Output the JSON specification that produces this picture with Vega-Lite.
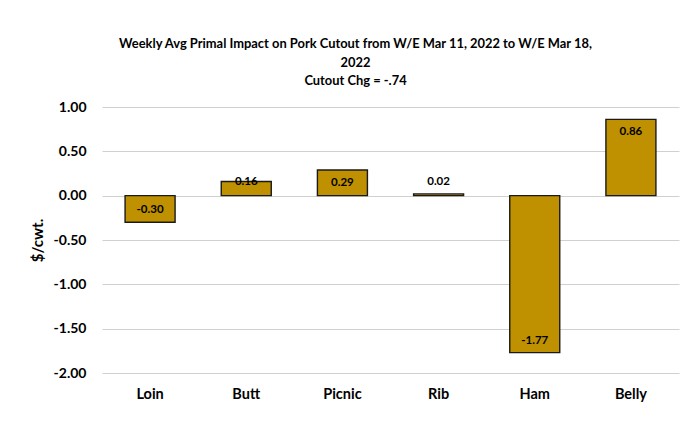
{
  "$schema": "https://vega.github.io/schema/vega-lite/v6.json",
  "width": 577,
  "height": 266,
  "autosize": "none",
  "padding": {"left": 102, "top": 107, "right": 17, "bottom": 57},
  "background": "white",
  "title": {
    "text": ["Weekly Avg Primal Impact on Pork Cutout from W/E Mar 11, 2022 to W/E Mar 18,", "2022", "Cutout Chg = -.74"],
    "font": "Lato",
    "fontSize": 12.9,
    "fontWeight": "bold",
    "color": "#000000",
    "anchor": "middle",
    "dx": -35,
    "offset": 12,
    "lineHeight": 18.5
  },
  "data": {
    "values": [
      {"primal": "Loin", "value": -0.30},
      {"primal": "Butt", "value": 0.16},
      {"primal": "Picnic", "value": 0.29},
      {"primal": "Rib", "value": 0.02},
      {"primal": "Ham", "value": -1.77},
      {"primal": "Belly", "value": 0.86}
    ]
  },
  "encoding": {
    "x": {
      "field": "primal",
      "type": "nominal",
      "sort": null,
      "scale": {"paddingInner": 0.48, "paddingOuter": 0.24},
      "axis": {
        "title": null,
        "labelAngle": 0,
        "labelFont": "Lato",
        "labelFontSize": 14.5,
        "labelFontWeight": "bold",
        "labelColor": "#000000",
        "labelPadding": 14,
        "domain": false,
        "ticks": false,
        "grid": false
      }
    }
  },
  "layer": [
    {
      "mark": {"type": "bar", "fill": "#BF9000", "stroke": "#1a1a1a", "strokeWidth": 1.4},
      "encoding": {
        "y": {
          "field": "value",
          "type": "quantitative",
          "scale": {"domain": [-2, 1], "nice": false},
          "axis": {
            "title": "$/cwt.",
            "titleFont": "Lato",
            "titleFontSize": 15,
            "titleFontWeight": "bold",
            "titleColor": "#000000",
            "titlePadding": 8,
            "values": [-2, -1.5, -1, -0.5, 0, 0.5, 1],
            "format": ".2f",
            "labelFont": "Lato",
            "labelFontSize": 14,
            "labelFontWeight": "bold",
            "labelColor": "#000000",
            "labelPadding": 16,
            "domain": false,
            "ticks": false,
            "grid": true,
            "gridColor": "#d0d0d0",
            "gridWidth": 1.2
          }
        }
      }
    },
    {
      "transform": [{"filter": "datum.value >= 0.25"}],
      "mark": {"type": "text", "font": "Lato", "fontSize": 11.5, "fontWeight": "bold", "color": "#000000", "dy": 13, "baseline": "middle"},
      "encoding": {
        "y": {"field": "value", "type": "quantitative"},
        "text": {"field": "value", "type": "quantitative", "format": ".2f"}
      }
    },
    {
      "transform": [{"filter": "datum.value >= 0 && datum.value < 0.25"}],
      "mark": {"type": "text", "font": "Lato", "fontSize": 11.5, "fontWeight": "bold", "color": "#000000", "dy": 13, "baseline": "middle"},
      "encoding": {
        "y": {"datum": 0.3, "type": "quantitative"},
        "text": {"field": "value", "type": "quantitative", "format": ".2f"}
      }
    },
    {
      "transform": [{"filter": "datum.value < 0"}],
      "mark": {"type": "text", "font": "Lato", "fontSize": 11.5, "fontWeight": "bold", "color": "#000000", "dy": -12, "baseline": "middle"},
      "encoding": {
        "y": {"field": "value", "type": "quantitative"},
        "text": {"field": "value", "type": "quantitative", "format": ".2f"}
      }
    }
  ],
  "config": {
    "view": {"stroke": null},
    "locale": {"number": {"decimal": ".", "thousands": ",", "grouping": [3], "currency": ["$", ""], "minus": "-"}}
  }
}
